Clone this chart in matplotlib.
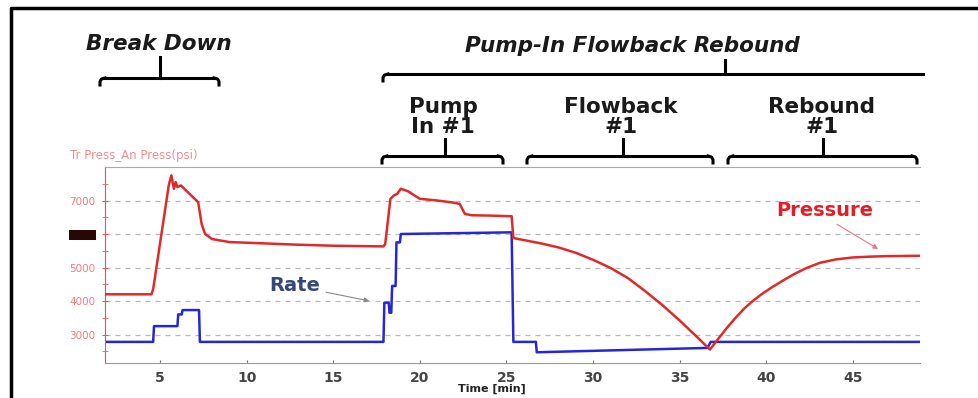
import matplotlib
matplotlib.use("Agg")
import matplotlib.pyplot as plt
from matplotlib.lines import Line2D
from matplotlib.transforms import Affine2D

# pressure curve (psi) vs time (min)
press_t = [1.8, 4.5, 4.6, 5.5, 5.65, 5.8, 5.9, 6.0, 6.2, 6.6, 7.0, 7.2, 7.4, 7.6, 8.0, 9.0,
           11.0, 13.0, 15.0, 17.9, 18.0, 18.2, 18.3, 18.5, 18.7, 18.9, 19.3, 20.0, 21.0, 21.9,
           22.3, 22.6, 23.0, 24.0, 25.3, 25.4, 26.0, 27.0, 28.0, 29.0, 30.0, 31.0, 32.0, 33.0,
           34.0, 35.0, 36.0, 36.75, 37.2, 37.7, 38.2, 38.7, 39.2, 39.7, 40.3, 41.0, 41.6, 42.3,
           43.1, 44.0, 45.0, 46.0, 47.0, 48.9]
press_p = [4200, 4200, 4350, 7450, 7750, 7350, 7550, 7400, 7450, 7250, 7050, 6950, 6300, 6000,
           5850, 5760, 5720, 5680, 5650, 5630, 5700, 6600, 7050, 7150, 7200, 7350, 7280, 7050,
           7000, 6940, 6900, 6600, 6560, 6550, 6530, 5880, 5820, 5720, 5600, 5440, 5230, 4990,
           4690, 4300, 3880, 3420, 2930, 2550, 2850, 3180, 3480, 3760, 3990, 4190, 4400, 4620,
           4800, 4980, 5140, 5240, 5300, 5325, 5340, 5350]

# injection rate, drawn on the pressure scale as in the source plot
rate_t = [1.8, 4.6, 4.65, 6.0, 6.05, 6.25, 6.3, 7.25, 7.3, 17.9, 17.95, 18.2, 18.25, 18.35,
          18.4, 18.6, 18.65, 18.85, 18.9, 25.3, 25.4, 26.7, 26.75, 36.6, 36.8, 48.9]
rate_v = [2780, 2780, 3250, 3250, 3600, 3600, 3730, 3730, 2780, 2780, 3950, 3950, 3650, 3650,
          4450, 4450, 5750, 5750, 6000, 6050, 2780, 2780, 2470, 2600, 2780, 2780]

x_ticks = [5, 10, 15, 20, 25, 30, 35, 40, 45]
y_ticks = [3000, 4000, 5000, 6000, 7000]

W, H = 979, 398
fig = plt.figure(figsize=(W / 100, H / 100), dpi=100)
px = Affine2D().scale(1 / W, -1 / H).translate(0, 1) + fig.transFigure

ax = fig.add_axes([105 / W, 1 - 363 / H, (920 - 105) / W, (363 - 167) / H])
ax.set_xlim(1.82, 48.88)
ax.set_ylim(2150, 8000)

ax.plot(press_t, press_p, color="#e02a2a", lw=1.8, zorder=3)
ax.plot(rate_t, rate_v, color="#2626d8", lw=1.8, zorder=2)

for g in y_ticks:
    ax.axhline(g, color="#b8b8b8", lw=0.9, ls=(0, (4, 4)), zorder=1)

ax.set_xticks(x_ticks)
ax.set_yticks(y_ticks)
ax.set_yticks(range(2500, 8000, 500), minor=True)
ax.tick_params(axis="x", direction="in", length=2, color="#777777", labelsize=10,
               labelcolor="#444444", pad=6)
ax.tick_params(axis="y", which="both", direction="inout", length=4, color="#e86060",
               labelsize=7.5, labelcolor="#f07c7c", pad=5)
for lab in ax.get_xticklabels():
    lab.set_fontweight("bold")
for lab in ax.get_yticklabels():
    if lab.get_text() == "6000":
        lab.set_color("#2a0606")
        lab.set_bbox(dict(facecolor="#2a0606", edgecolor="none", pad=0.3))

ax.spines["right"].set_visible(False)
ax.spines["left"].set_color("#e85050")
ax.spines["bottom"].set_color("#999999")
ax.spines["top"].set_color("#aaaaaa")

ax.set_xlabel("Time [min]", fontsize=8, fontweight="bold", color="#222222", va="center")
ax.xaxis.set_label_coords((492 - 105) / 815, -(389 - 363) / 196)
fig.text(70, 155, "Tr Press_An Press(psi)", transform=px, fontsize=8.5, color="#f29090",
         va="center", ha="left")

ax.annotate("Rate", xy=(17.24, 3985), xytext=(12.8, 4450), fontsize=14, fontweight="bold",
            color="#33497d", ha="center", va="center",
            bbox=dict(facecolor="white", edgecolor="none", pad=2),
            arrowprops=dict(arrowstyle="-|>", color="#888888", lw=0.8, mutation_scale=7))
ax.annotate("Pressure", xy=(46.6, 5510), xytext=(40.6, 6700), fontsize=14, fontweight="bold",
            color="#e41e26", ha="left", va="center", annotation_clip=False,
            arrowprops=dict(arrowstyle="-|>", color="#e07888", lw=0.8, mutation_scale=7,
                            relpos=(0.55, 0.0)))
ax.texts[-1].set_clip_on(True)

# frame around the picture
fig.add_artist(Line2D([11, 11, W], [H, 8, 8], transform=px, color="black", lw=2.5))


def brace(x0, x1, xc, y, top, hook_left=True, hook_right=True):
    xs = [x0 + 5, x1 - 5]
    fig.add_artist(Line2D(xs, [y, y], transform=px, color="black", lw=2.2))
    fig.add_artist(Line2D([xc, xc], [top, y], transform=px, color="black", lw=2.2))
    if hook_left:
        fig.add_artist(Line2D([x0 + 5, x0 + 1.5, x0, x0], [y, y + 1, y + 3.5, y + 7],
                              transform=px, color="black", lw=2.2))
    if hook_right:
        fig.add_artist(Line2D([x1 - 5, x1 - 1.5, x1, x1], [y, y + 1, y + 3.5, y + 7],
                              transform=px, color="black", lw=2.2))


brace(100, 219, 160, 78, 57)
brace(383, 928, 725, 74, 60, hook_right=False)
brace(382, 503, 445, 156, 139)
brace(527, 713, 623, 156, 139)
brace(728, 917, 823, 156, 139)

head = dict(transform=px, fontsize=15.5, fontweight="bold", color="#1a1a1a",
            ha="center", va="center")
fig.text(159, 44, "Break Down", style="italic", **head)
fig.text(632, 46, "Pump-In Flowback Rebound", style="italic", **head)
fig.text(443, 117, "Pump\nIn #1", linespacing=1.0, **head)
fig.text(621, 117, "Flowback\n#1", linespacing=1.0, **head)
fig.text(822, 117, "Rebound\n#1", linespacing=1.0, **head)

fig.savefig("out.png", dpi=100)
